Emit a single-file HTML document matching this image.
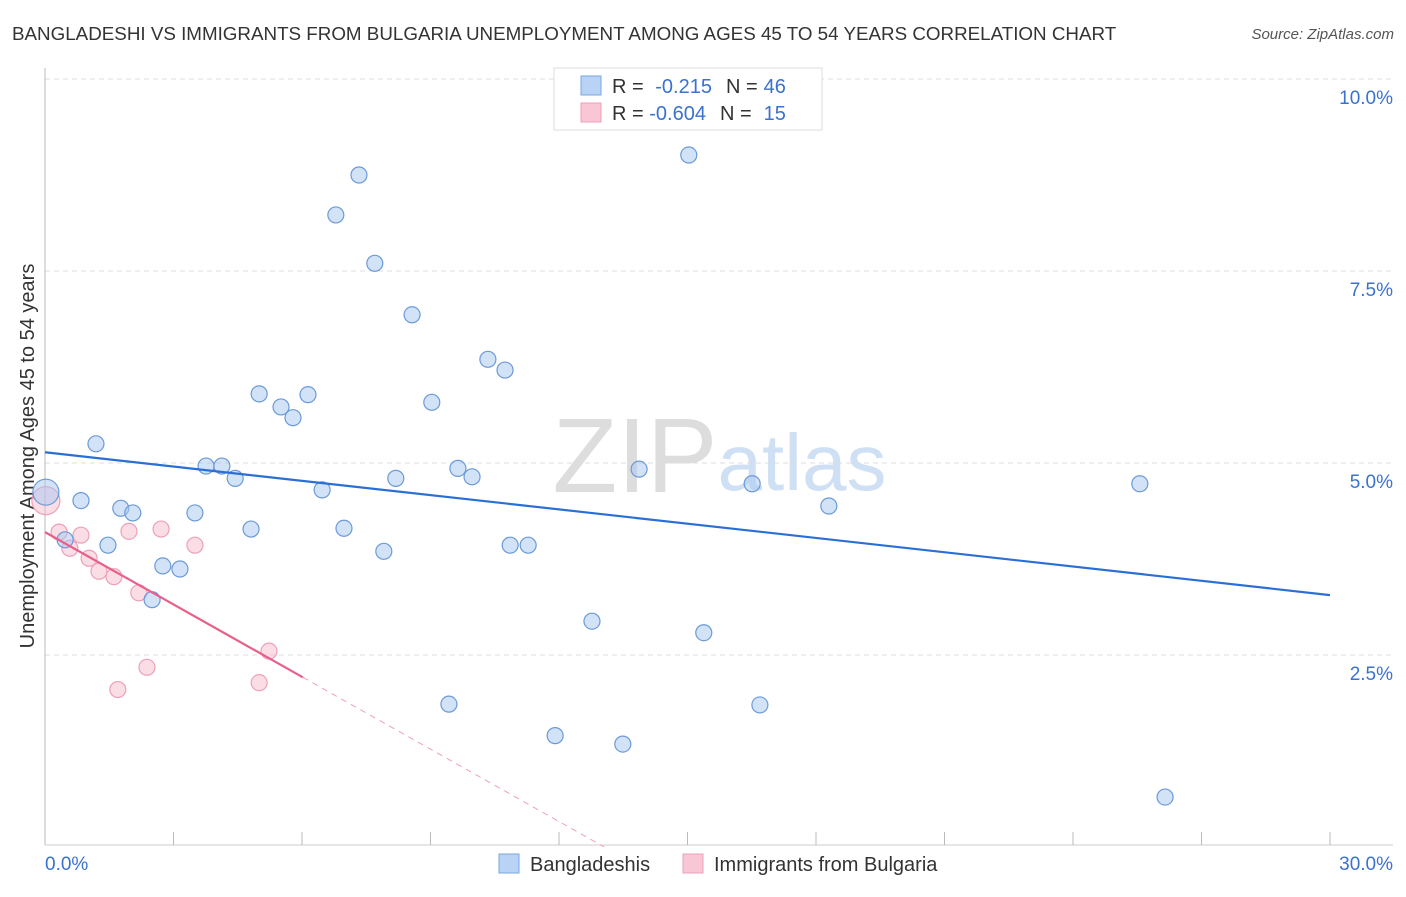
<!DOCTYPE html>
<html><head><meta charset="utf-8"><style>
body{margin:0;background:#fff;font-family:"Liberation Sans",sans-serif}
svg text{font-family:"Liberation Sans",sans-serif}
</style></head><body>
<svg id="c" width="1406" height="892">
<text x="12" y="40" font-size="18.8" fill="#333">BANGLADESHI VS IMMIGRANTS FROM BULGARIA UNEMPLOYMENT AMONG AGES 45 TO 54 YEARS CORRELATION CHART</text>
<text x="1394" y="39" font-size="15" fill="#555" font-style="italic" text-anchor="end">Source: ZipAtlas.com</text>
<text x="635" y="492" font-size="106" fill="#ddd" font-family="Liberation Serif" text-anchor="middle">ZIP</text>
<text x="802" y="490" font-size="80" fill="#cfe0f5" text-anchor="middle">atlas</text>
<text transform="translate(34,456) rotate(-90)" font-size="20" fill="#333" text-anchor="middle">Unemployment Among Ages 45 to 54 years</text>
<g id="grid"></g><g id="marks"></g>
<g>
<rect x="554" y="68" width="268" height="62" fill="#fff" stroke="#ddd"/>
<rect x="581" y="76" width="20" height="19" fill="#b8d3f5" stroke="#7aa7e0"/>
<rect x="581" y="103" width="20" height="19" fill="#f8c6d5" stroke="#eea0b8"/>
<text x="612" y="93" font-size="20" fill="#333">R = <tspan fill="#3a72d0" dx="6">-0.215</tspan><tspan fill="#333" dx="14">N =</tspan><tspan fill="#3a72d0" dx="6">46</tspan></text>
<text x="612" y="120" font-size="20" fill="#333">R = <tspan fill="#3a72d0">-0.604</tspan><tspan fill="#333" dx="14">N =</tspan><tspan fill="#3a72d0" dx="12">15</tspan></text>
</g>
<g>
<rect x="499" y="854" width="20" height="19" fill="#b8d3f5" stroke="#7aa7e0"/>
<text x="530" y="871" font-size="20" fill="#333">Bangladeshis</text>
<rect x="683" y="854" width="20" height="19" fill="#f8c6d5" stroke="#eea0b8"/>
<text x="714" y="871" font-size="20" fill="#333">Immigrants from Bulgaria</text>
</g>
</svg>
<script>
const yTicks=[10,7.5,5,2.5];
const yTickLabels=["10.0%","7.5%","5.0%","2.5%"];
const xTickLabels=["0.0%","30.0%"];
const blueX=[0.02,1.19,0.84,0.47,1.47,1.77,2.05,2.50,2.75,3.15,3.50,3.76,4.13,4.44,4.81,5.00,5.51,5.79,6.14,6.47,6.79,6.98,7.33,7.70,7.91,8.19,8.57,9.03,9.43,9.64,9.97,10.34,10.74,10.86,11.28,11.91,12.77,13.49,13.87,15.03,15.38,16.51,16.69,18.30,25.56,26.15];
const blueY=[4.62,5.25,4.51,4.00,3.93,4.41,4.35,3.22,3.66,3.62,4.35,4.96,4.96,4.80,4.14,5.90,5.73,5.59,5.89,4.65,8.23,4.15,8.75,7.60,3.85,4.80,6.93,5.79,1.86,4.93,4.82,6.35,6.21,3.93,3.93,1.45,2.94,1.34,4.92,9.01,2.79,4.73,1.85,4.44,4.73,0.65];
const pinkX=[0.02,0.33,0.58,0.84,1.03,1.26,1.61,1.70,1.96,2.19,2.38,2.71,3.50,5.00,5.23];
const pinkY=[4.51,4.10,3.89,4.06,3.76,3.59,3.52,2.05,4.11,3.31,2.34,4.14,3.93,2.14,2.55];
const blueFit=[5.14,-0.062];
const pinkFit=[4.10,-0.314];
const X=v=>45+v/30*1285, Y=v=>847-v*76.8;
const NS="http://www.w3.org/2000/svg";
const mk=(p,t,a)=>{const e=document.createElementNS(NS,t);for(const k in a)e.setAttribute(k,a[k]);p.appendChild(e);return e;};
const g=document.getElementById('grid'), m=document.getElementById('marks');
yTicks.forEach((v,i)=>{
 const l=mk(g,'line',{x1:45,x2:1393,y1:Y(v),y2:Y(v),stroke:'#ddd','stroke-dasharray':'5,4'});
 
 
 const t=mk(g,'text',{x:1393,y:Y(v)+25,'font-size':19,fill:'#3a72d0','text-anchor':'end'});t.textContent=yTickLabels[i];
 
 
});
mk(g,'line',{x1:45,x2:45,y1:68,y2:845,stroke:'#bbb'});
mk(g,'line',{x1:45,x2:1393,y1:845,y2:845,stroke:'#ccc'});
for(let i=1;i<=10;i++){mk(g,'line',{x1:X(i*3),x2:X(i*3),y1:832,y2:845,stroke:'#bbb'});}
[[0,45,'start'],[30,1393,'end']].forEach((d,i)=>{const t=mk(g,'text',{x:d[1],y:870,'font-size':19,fill:'#3a72d0','text-anchor':d[2]});t.textContent=xTickLabels[i];
 
 });
pinkX.forEach((x,i)=>{const c=mk(m,'circle',{cx:X(x),cy:Y(pinkY[i]),r:i==0?14:8,fill:'rgba(246,180,200,0.45)',stroke:'#eea0b8','stroke-width':1.2});
 
 });
blueX.forEach((x,i)=>{const c=mk(m,'circle',{cx:X(x),cy:Y(blueY[i]),r:i==0?13:8,fill:'rgba(168,200,240,0.5)',stroke:'#6b9ad8','stroke-width':1.2});
 
 });
const bl=mk(m,'line',{x1:X(0),y1:Y(blueFit[0]),x2:X(30),y2:Y(blueFit[0]+30*blueFit[1]),stroke:'#2b6fd6','stroke-width':2.2});


const pl=mk(m,'line',{x1:X(0),y1:Y(pinkFit[0]),x2:X(6.02),y2:Y(pinkFit[0]+6.02*pinkFit[1]),stroke:'#e8608a','stroke-width':2.2});


const xe=-pinkFit[0]/pinkFit[1];
const pd=mk(m,'line',{x1:X(6.02),y1:Y(pinkFit[0]+6.02*pinkFit[1]),x2:X(xe),y2:Y(0),stroke:'#eea0b8','stroke-width':1,'stroke-dasharray':'6,5'});


</script>
</body></html>
